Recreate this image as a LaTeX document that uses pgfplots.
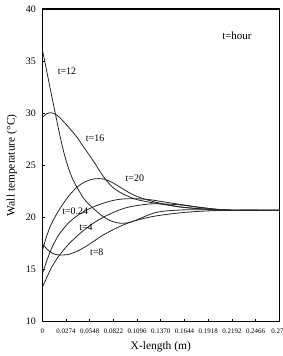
\documentclass[border=0pt]{standalone}
\usepackage{fontspec}
\setmainfont{Liberation Serif}
\usepackage{pgfplots}
\pgfplotsset{compat=1.18}
\begin{document}
\begin{tikzpicture}
\begin{axis}[
  scale only axis, width=237bp, height=312.7bp,
  xmin=0, xmax=0.274, ymin=10, ymax=40,
  xtick={0,0.0274,0.0548,0.0822,0.1096,0.137,0.1644,0.1918,0.2192,0.2466,0.274},
  xticklabels={0,0.0274,0.0548,0.0822,0.1096,0.1370,0.1644,0.1918,0.2192,0.2466,0.274},
  ytick={10,15,20,25,30,35,40},
  tick align=inside, tick pos=left, major tick length=3bp,
  tick style={black, line width=0.8pt},
  axis line style={line width=1.1pt},
  /pgf/number format/assume math mode=true,
  x tick label style={font=\fontsize{7}{8}\selectfont, yshift=-3.5bp},
  y tick label style={font=\fontsize{10}{12}\selectfont, xshift=-3bp},
  xlabel={X-length (m)}, ylabel={Wall temperature (°C)},
  xlabel style={yshift=-1bp},
  ylabel style={yshift=2bp},
  label style={font=\fontsize{11.5}{13}\selectfont},
  curve/.style={black!85, line width=0.8pt, smooth, tension=0.5, mark=none},
]
% t=12
\addplot[curve] coordinates {(0,36.1)(0.005,34.1)(0.01,32.0)(0.015,30.0)(0.02,28.0)(0.025,26.2)(0.03,24.8)(0.035,23.7)(0.04,22.9)(0.045,22.2)(0.05,21.6)(0.06,20.8)(0.07,20.1)(0.08,19.65)(0.09,19.45)(0.1,19.5)(0.11,19.8)(0.12,20.15)(0.13,20.45)(0.14,20.6)(0.16,20.72)(0.18,20.74)(0.2,20.72)(0.2192,20.7)(0.274,20.7)};
% t=16
\addplot[curve] coordinates {(0,29.6)(0.005,29.95)(0.01,30.05)(0.015,29.9)(0.02,29.6)(0.03,28.7)(0.04,27.7)(0.05,26.5)(0.06,25.3)(0.07,24.0)(0.08,23.0)(0.09,22.4)(0.1,22.0)(0.11,21.7)(0.125,21.45)(0.14,21.25)(0.16,21.0)(0.18,20.85)(0.2,20.75)(0.2192,20.7)(0.274,20.7)};
% t=20
\addplot[curve] coordinates {(0,16.8)(0.005,18.2)(0.01,19.3)(0.015,20.1)(0.02,20.8)(0.03,22.0)(0.04,22.9)(0.05,23.45)(0.06,23.7)(0.07,23.7)(0.08,23.4)(0.09,22.9)(0.1,22.4)(0.11,22.0)(0.125,21.6)(0.14,21.3)(0.16,21.0)(0.18,20.85)(0.2,20.76)(0.2192,20.7)(0.274,20.7)};
% t=0.24
\addplot[curve] coordinates {(0,14.6)(0.005,15.8)(0.01,16.9)(0.015,17.75)(0.02,18.45)(0.03,19.45)(0.04,20.15)(0.05,20.65)(0.06,21.05)(0.07,21.35)(0.08,21.6)(0.09,21.75)(0.1,21.8)(0.11,21.8)(0.125,21.7)(0.14,21.5)(0.16,21.25)(0.18,21.0)(0.2,20.8)(0.2192,20.7)(0.274,20.7)};
% t=4
\addplot[curve] coordinates {(0,13.3)(0.005,14.2)(0.01,15.1)(0.015,15.8)(0.02,16.4)(0.03,17.4)(0.04,18.2)(0.05,18.9)(0.06,19.5)(0.07,20.0)(0.08,20.4)(0.09,20.75)(0.1,21.0)(0.11,21.15)(0.125,21.3)(0.14,21.3)(0.16,21.2)(0.18,20.98)(0.2,20.8)(0.2192,20.7)(0.274,20.7)};
% t=8
\addplot[curve] coordinates {(0,17.5)(0.005,17.0)(0.01,16.65)(0.015,16.45)(0.02,16.4)(0.03,16.45)(0.04,16.75)(0.05,17.2)(0.06,17.75)(0.07,18.3)(0.08,18.75)(0.09,19.15)(0.1,19.5)(0.11,19.75)(0.125,20.05)(0.14,20.25)(0.16,20.45)(0.18,20.58)(0.2,20.66)(0.2192,20.7)(0.274,20.7)};
\node[font=\fontsize{11}{13}\selectfont] at (axis cs:0.225,37.4) {t=hour};
\node[font=\fontsize{10}{12}\selectfont] at (axis cs:0.0285,34.0) {t=12};
\node[font=\fontsize{10}{12}\selectfont] at (axis cs:0.061,27.6) {t=16};
\node[font=\fontsize{10}{12}\selectfont] at (axis cs:0.107,23.8) {t=20};
\node[font=\fontsize{10}{12}\selectfont] at (axis cs:0.038,20.6) {t=0.24};
\node[font=\fontsize{10}{12}\selectfont] at (axis cs:0.0505,19.1) {t=4};
\node[font=\fontsize{10}{12}\selectfont] at (axis cs:0.063,16.7) {t=8};
\end{axis}
\pgfresetboundingbox
\path[use as bounding box] (-42.3bp,-34.3bp) rectangle (240.7bp,321.7bp);
\end{tikzpicture}
\end{document}
